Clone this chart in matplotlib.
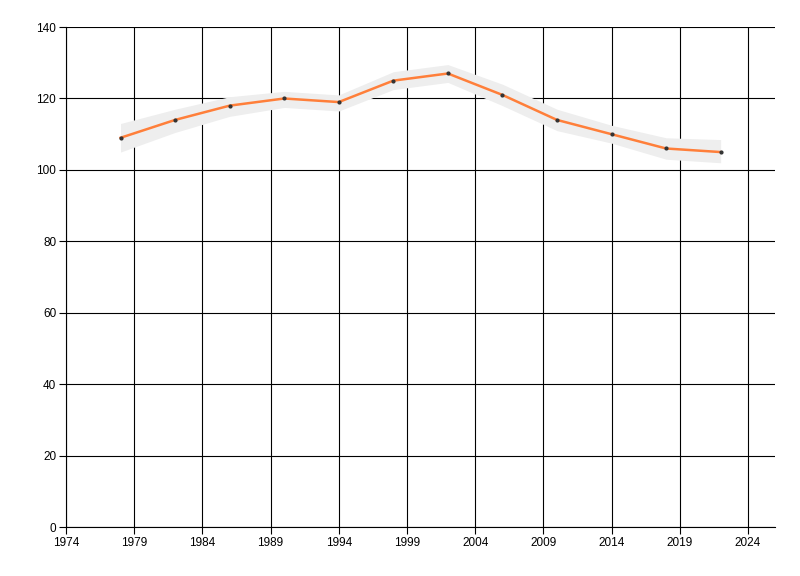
import matplotlib.pyplot as plt

years = [1978, 1982, 1986, 1990, 1994, 1998, 2002, 2006, 2010, 2014, 2018, 2022]
values = [109, 114, 118, 120, 119, 125, 127, 121, 114, 110, 106, 105]
band_low = [105, 110.5, 115, 117.5, 116.5, 122.5, 124.5, 118, 111, 107.5, 103, 102]
band_high = [113, 117, 120.5, 122, 121, 127.5, 129.5, 124, 117, 112.5, 109, 108.5]

x_ticks = [1974, 1979, 1984, 1989, 1994, 1999, 2004, 2009, 2014, 2019, 2024]
y_ticks = [0, 20, 40, 60, 80, 100, 120, 140]

plt.rcParams["font.family"] = ["Liberation Sans", "DejaVu Sans"]

fig = plt.figure(figsize=(8, 5.76), dpi=100)
ax = fig.add_axes([0.0825, 0.085, 0.8865, 0.868])

ax.fill_between(years, band_low, band_high, color="#eeeeee", linewidth=0, zorder=3)
ax.plot(years, values, color="#ff7f3a", linewidth=1.8, zorder=4)
ax.plot(years, values, linestyle="none", marker="o", markersize=2,
        color="#333333", zorder=5)

ax.set_xlim(1974, 2026)
ax.set_ylim(0, 140)
ax.set_xticks(x_ticks)
ax.set_yticks(y_ticks)
ax.grid(True, color="black", linewidth=0.8, zorder=1)
ax.set_axisbelow(True)

for side in ["top", "right"]:
    ax.spines[side].set_visible(False)
for side in ["left", "bottom"]:
    ax.spines[side].set_linewidth(0.8)

ax.tick_params(direction="out", length=5, width=0.8, labelsize=8.5, pad=2)

fig.savefig("out.png", dpi=100)
